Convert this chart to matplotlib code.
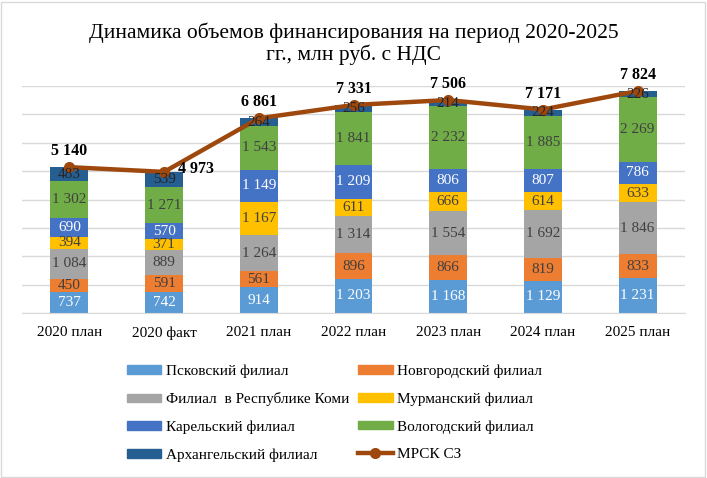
import matplotlib
matplotlib.use("Agg")
import matplotlib.pyplot as plt
import numpy as np
from matplotlib.lines import Line2D
from matplotlib.patches import Patch, Rectangle

categories = ["2020 план", "2020 факт", "2021 план", "2022 план", "2023 план", "2024 план", "2025 план"]
series_names = ["Псковский филиал", "Новгородский филиал", "Филиал  в Республике Коми",
                "Мурманский филиал", "Карельский филиал", "Вологодский филиал", "Архангельский филиал"]
pskov = [737, 742, 914, 1203, 1168, 1129, 1231]
novgorod = [450, 591, 561, 896, 866, 819, 833]
komi = [1084, 889, 1264, 1314, 1554, 1692, 1846]
murmansk = [394, 371, 1167, 611, 666, 614, 633]
karelia = [690, 570, 1149, 1209, 806, 807, 786]
vologda = [1302, 1271, 1543, 1841, 2232, 1885, 2269]
arkhangelsk = [483, 539, 264, 256, 214, 224, 226]
totals = [5140, 4973, 6861, 7331, 7506, 7171, 7824]
line_name = "МРСК СЗ"
title = "Динамика объемов финансирования на период 2020-2025\nгг., млн руб. с НДС"

series = [pskov, novgorod, komi, murmansk, karelia, vologda, arkhangelsk]
colors = ["#5B9BD5", "#ED7D31", "#A5A5A5", "#FFC000", "#4472C4", "#70AD47", "#255E91"]
label_colors = ["white", "#404040", "#404040", "#404040", "white", "#404040", "#262626"]
line_color = "#9E480E"

plt.rcParams['font.family'] = ['Liberation Serif', 'DejaVu Serif']

W, H = 707, 478
fig = plt.figure(figsize=(W / 100, H / 100), dpi=100)
fig.patches.append(Rectangle((1 / W, 1 / H), 1 - 3 / W, 1 - 3 / H, transform=fig.transFigure,
                             fill=False, edgecolor="#D9D9D9", linewidth=1))

x0, x1 = 22, 685
ybase, ytop = 313, 86
ax = fig.add_axes([x0 / W, (H - ybase) / H, (x1 - x0) / W, (ybase - ytop) / H])
ax.set_xlim(-0.5, len(categories) - 0.5)
ax.set_ylim(0, 8000)

def fmt(v):
    return f"{v:,}".replace(",", " ")

x = np.arange(len(categories))
bottom = np.zeros(len(categories))
for vals, col, lc in zip(series, colors, label_colors):
    vals = np.array(vals, dtype=float)
    ax.bar(x, vals, width=0.4, bottom=bottom, color=col, zorder=2)
    for xi, b, v in zip(x, bottom, vals):
        ax.text(xi, b + v / 2, fmt(int(v)), ha="center", va="center", fontsize=11,
                color=lc, zorder=5)
    bottom += vals

ax.plot(x, totals, color=line_color, linewidth=3.2, marker="o", markersize=7, zorder=4)
for i, (xi, t) in enumerate(zip(x, totals)):
    if i == 1:
        ax.annotate(fmt(t), (xi, t), xytext=(10, 2), textcoords="offset points",
                    ha="left", va="center", fontsize=11.5, fontweight="bold", zorder=6)
    else:
        ax.annotate(fmt(t), (xi, t), xytext=(0, 11.5), textcoords="offset points",
                    ha="center", va="center", fontsize=11.5, fontweight="bold", zorder=6)

ax.set_yticks(np.arange(0, 8001, 1000))
ax.yaxis.grid(True, color="#D9D9D9", linewidth=1, zorder=0)
ax.set_axisbelow(True)
ax.tick_params(axis="y", left=False, labelleft=False)
ax.set_xticks(x)
ax.set_xticklabels(categories, fontsize=11)
ax.tick_params(axis="x", length=0, pad=9.5)
for s in ["top", "right", "left"]:
    ax.spines[s].set_visible(False)
ax.spines["bottom"].set_color("#D9D9D9")

fig.text(354 / W, 1 - 44 / H, title, ha="center", va="center", fontsize=15.5, linespacing=1.1)

handles = [Patch(color=c) for c in colors]
handles.append(Line2D([0], [0], color=line_color, linewidth=3.2, marker="o", markersize=7))
labels = series_names + [line_name]
order = [0, 2, 4, 6, 1, 3, 5, 7]
fig.legend([handles[i] for i in order], [labels[i] for i in order],
           ncol=2, loc="upper left", bbox_to_anchor=(119 / W, 1 - 357 / H),
           frameon=False, fontsize=11, handlelength=2.25, handleheight=0.5,
           handletextpad=0.3, columnspacing=0.6, labelspacing=0.93, borderpad=0)

fig.savefig("out.png", dpi=100)
